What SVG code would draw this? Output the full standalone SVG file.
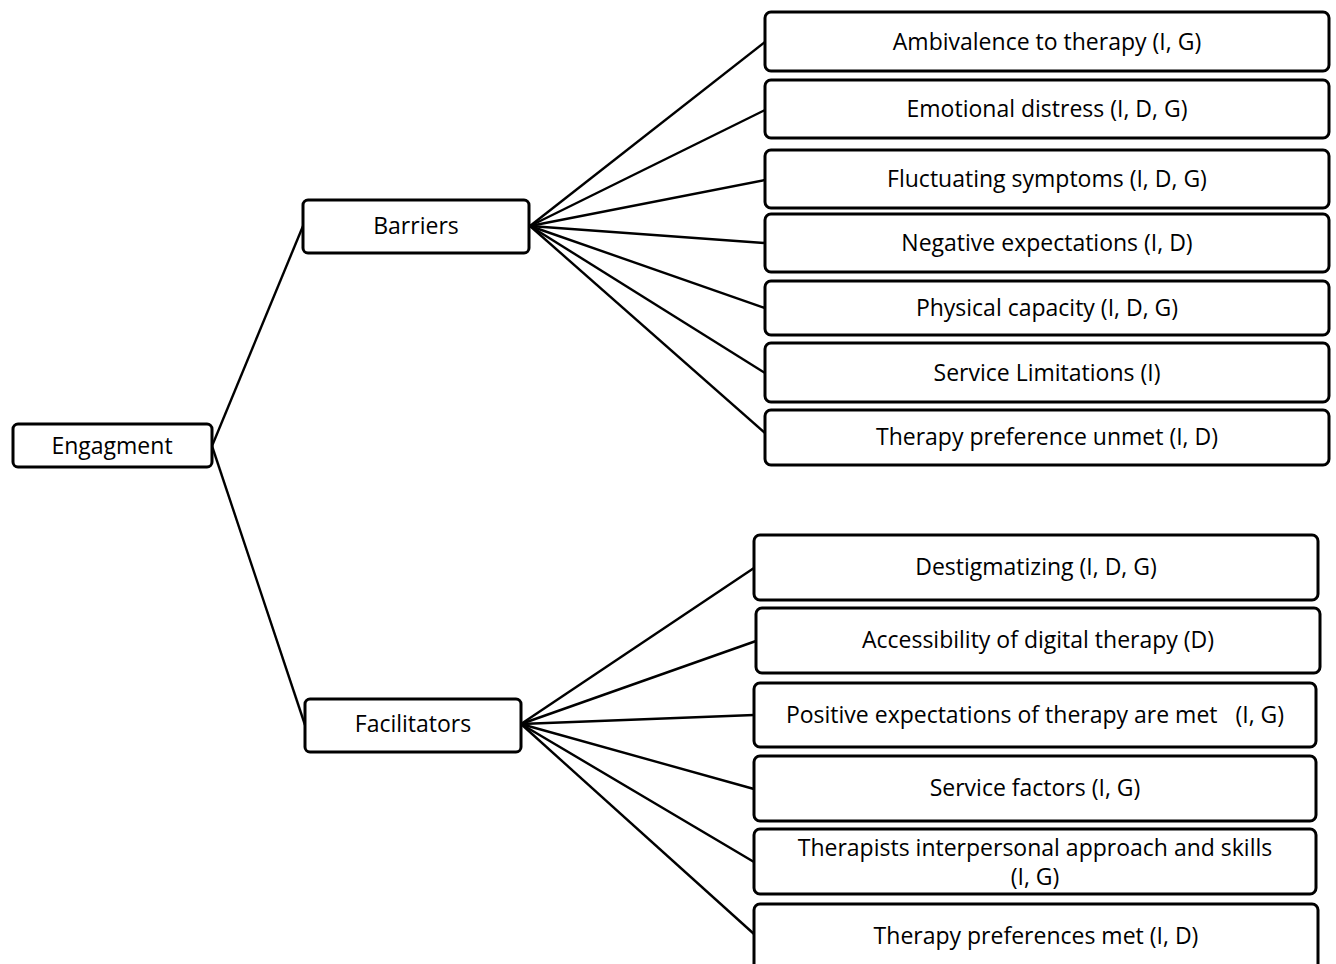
<svg xmlns="http://www.w3.org/2000/svg" width="1336" height="964" viewBox="0 0 1336 964">
<style>
.box{fill:#fff;stroke:#000;stroke-width:3;}
.lbl{font-family:"Open Sans","Liberation Sans",sans-serif;font-size:23px;fill:#000;text-anchor:middle;dominant-baseline:central;}
.con line{stroke:#000;stroke-width:2.4;}
</style>
<rect width="1336" height="964" fill="#fff"/>
<g id="connectors" class="con">
<line x1="212" y1="446" x2="303" y2="226"/>
<line x1="212" y1="446" x2="305" y2="725"/>
<line x1="530" y1="226" x2="765" y2="42"/>
<line x1="530" y1="226" x2="765" y2="110"/>
<line x1="530" y1="226" x2="765" y2="180"/>
<line x1="530" y1="226" x2="765" y2="243"/>
<line x1="530" y1="226" x2="765" y2="308"/>
<line x1="530" y1="226" x2="765" y2="373"/>
<line x1="530" y1="226" x2="765" y2="433"/>
<line x1="521" y1="724" x2="754" y2="568"/>
<line x1="521" y1="724" x2="756" y2="641"/>
<line x1="521" y1="724" x2="754" y2="715"/>
<line x1="521" y1="724" x2="754" y2="789"/>
<line x1="521" y1="724" x2="754" y2="862"/>
<line x1="521" y1="724" x2="754" y2="934"/>
</g>
<g id="engagment"><rect class="box" x="13" y="424" width="199" height="43" rx="5"/><text class="lbl" x="112" y="445">Engagment</text></g>
<g id="barriers"><rect class="box" x="303" y="200" width="226" height="53" rx="5"/><text class="lbl" x="416" y="225">Barriers</text></g>
<g id="facilitators"><rect class="box" x="305" y="699" width="216" height="53" rx="5"/><text class="lbl" x="413" y="723">Facilitators</text></g>
<g id="b1"><rect class="box" x="765" y="12" width="564" height="59" rx="6"/><text class="lbl" x="1047" y="41">Ambivalence to therapy (I, G)</text></g>
<g id="b2"><rect class="box" x="765" y="80" width="564" height="58" rx="6"/><text class="lbl" x="1047" y="108">Emotional distress (I, D, G)</text></g>
<g id="b3"><rect class="box" x="765" y="150" width="564" height="58" rx="6"/><text class="lbl" x="1047" y="178">Fluctuating symptoms (I, D, G)</text></g>
<g id="b4"><rect class="box" x="765" y="214" width="564" height="58" rx="6"/><text class="lbl" x="1047" y="242">Negative expectations (I, D)</text></g>
<g id="b5"><rect class="box" x="765" y="281" width="564" height="54" rx="6"/><text class="lbl" x="1047" y="307">Physical capacity (I, D, G)</text></g>
<g id="b6"><rect class="box" x="765" y="343" width="564" height="59" rx="6"/><text class="lbl" x="1047" y="372">Service Limitations (I)</text></g>
<g id="b7"><rect class="box" x="765" y="410" width="564" height="55" rx="6"/><text class="lbl" x="1047" y="436">Therapy preference unmet (I, D)</text></g>
<g id="f1"><rect class="box" x="754" y="535" width="564" height="65" rx="6"/><text class="lbl" x="1036" y="566">Destigmatizing (I, D, G)</text></g>
<g id="f2"><rect class="box" x="756" y="608" width="564" height="65" rx="6"/><text class="lbl" x="1038" y="639">Accessibility of digital therapy (D)</text></g>
<g id="f3"><rect class="box" x="754" y="683" width="562" height="64" rx="6"/><text class="lbl" x="1035" y="714" xml:space="preserve">Positive expectations of therapy are met   (I, G)</text></g>
<g id="f4"><rect class="box" x="754" y="756" width="562" height="65" rx="6"/><text class="lbl" x="1035" y="787">Service factors (I, G)</text></g>
<g id="f5"><rect class="box" x="754" y="829" width="562" height="65" rx="6"/><text class="lbl" x="1035" y="847">Therapists interpersonal approach and skills</text><text class="lbl" x="1035" y="876">(I, G)</text></g>
<g id="f6"><rect class="box" x="754" y="904" width="564" height="72" rx="6"/><text class="lbl" x="1036" y="935">Therapy preferences met (I, D)</text></g>
</svg>
